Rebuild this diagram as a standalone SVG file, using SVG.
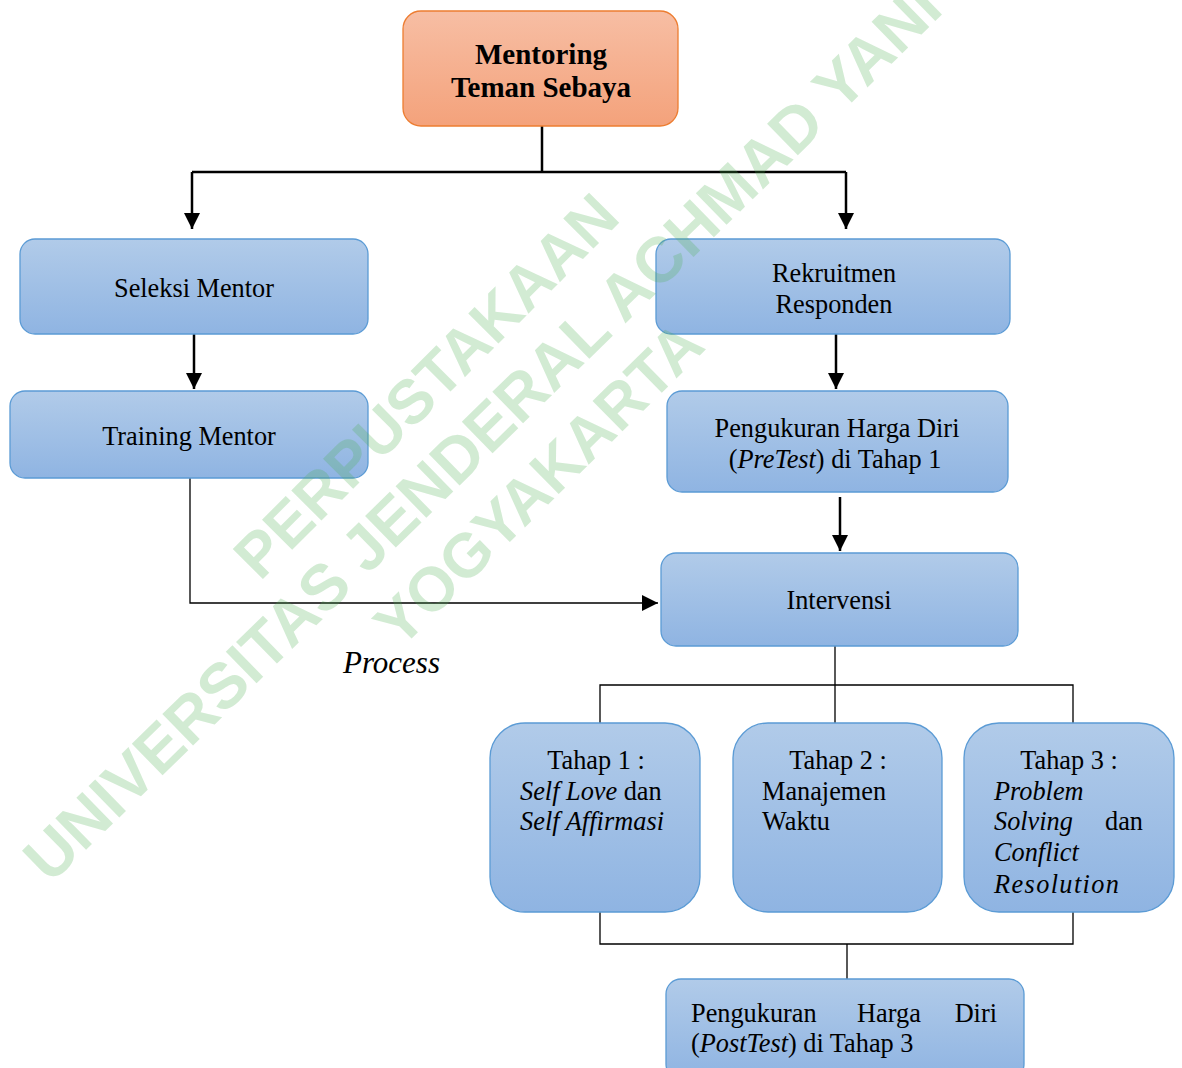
<svg xmlns="http://www.w3.org/2000/svg" width="1182" height="1068" viewBox="0 0 1182 1068">
<defs>
<linearGradient id="gBlue" x1="0" y1="0" x2="0" y2="1">
<stop offset="0" stop-color="#b1cbe9"/>
<stop offset="1" stop-color="#8fb4e2"/>
</linearGradient>
<linearGradient id="gOrange" x1="0" y1="0" x2="0" y2="1">
<stop offset="0" stop-color="#f7bea4"/>
<stop offset="1" stop-color="#f4a27b"/>
</linearGradient>
<marker id="arr" markerUnits="userSpaceOnUse" markerWidth="16" markerHeight="16" refX="14" refY="7" orient="auto" viewBox="0 0 14 14">
<path d="M0,0 L14,7 L0,14 z" fill="#000"/>
</marker>
</defs>
<style>
.box{fill:url(#gBlue);stroke:#5b9bd5;stroke-width:1.3}
.obox{fill:url(#gOrange);stroke:#ed7d31;stroke-width:1.3}
.t{font-family:"Liberation Serif","Times New Roman",serif;font-size:26.3px;fill:#000}
.c{text-anchor:middle}
.e{text-anchor:end}
.i{font-style:italic}
.b{font-weight:bold;font-size:29px}
.thick{fill:none;stroke:#000;stroke-width:2.5}
.thin{fill:none;stroke:#000;stroke-width:1.3}
.wm{font-family:"Liberation Sans",Arial,sans-serif;font-weight:bold;font-size:62px;fill:#4caf50;fill-opacity:0.25}
</style>

<g id="connectors">
<path class="thick" d="M542,126 V172 M192,172 H846"/>
<path class="thick" d="M192,172 V229" marker-end="url(#arr)"/>
<path class="thick" d="M846,172 V229" marker-end="url(#arr)"/>
<path class="thick" d="M194,334 V389" marker-end="url(#arr)"/>
<path class="thick" d="M836,334 V389" marker-end="url(#arr)"/>
<path class="thick" d="M840,497 V551" marker-end="url(#arr)"/>
<path class="thin" d="M190,478 V603 H658" marker-end="url(#arr)"/>
<path class="thin" d="M835,646 V723 M600,723 V685 H1073 V723"/>
<path class="thin" d="M600,912 V944 H1073 V912 M847,944 V979"/>
</g>

<g id="node-mentoring">
<rect class="obox" x="403" y="11" width="275" height="115" rx="18"/>
<text class="t b c" x="541" y="64">Mentoring</text>
<text class="t b c" x="541" y="97">Teman Sebaya</text>
</g>

<g id="node-seleksi">
<rect class="box" x="20" y="239" width="348" height="95" rx="15"/>
<text class="t c" x="194" y="297">Seleksi Mentor</text>
</g>

<g id="node-training">
<rect class="box" x="10" y="391" width="358" height="87" rx="15"/>
<text class="t c" x="189" y="445">Training Mentor</text>
</g>

<g id="node-rekruitmen">
<rect class="box" x="656" y="239" width="354" height="95" rx="15"/>
<text class="t c" x="834" y="282">Rekruitmen</text>
<text class="t c" x="834" y="313">Responden</text>
</g>

<g id="node-pretest">
<rect class="box" x="667" y="391" width="341" height="101" rx="15"/>
<text class="t c" x="837" y="437">Pengukuran Harga Diri</text>
<text class="t c" x="835" y="468">(<tspan class="i">PreTest</tspan>) di Tahap 1</text>
</g>

<g id="node-intervensi">
<rect class="box" x="661" y="553" width="357" height="93" rx="15"/>
<text class="t c" x="839" y="609">Intervensi</text>
</g>

<text id="label-process" class="t i" x="343" y="673" style="font-size:31px">Process</text>

<g id="node-tahap1">
<rect class="box" x="490" y="723" width="210" height="189" rx="35"/>
<text class="t c" x="596" y="769">Tahap 1 :</text>
<text class="t" x="520" y="800"><tspan class="i">Self Love</tspan> dan</text>
<text class="t i" x="520" y="830" textLength="144">Self Affirmasi</text>
</g>

<g id="node-tahap2">
<rect class="box" x="733" y="723" width="209" height="189" rx="35"/>
<text class="t c" x="838" y="769">Tahap 2 :</text>
<text class="t" x="762" y="800">Manajemen</text>
<text class="t" x="762" y="830">Waktu</text>
</g>

<g id="node-tahap3">
<rect class="box" x="964" y="723" width="210" height="189" rx="35"/>
<text class="t c" x="1069" y="769">Tahap 3 :</text>
<text class="t i" x="994" y="800">Problem</text>
<text class="t i" x="994" y="830">Solving</text>
<text class="t e" x="1143" y="830">dan</text>
<text class="t i" x="994" y="861">Conflict</text>
<text class="t i" x="994" y="893" textLength="125">Resolution</text>
</g>

<g id="node-posttest">
<rect class="box" x="666" y="979" width="358" height="100" rx="15"/>
<text class="t" x="691" y="1022">Pengukuran</text>
<text class="t c" x="889" y="1022">Harga</text>
<text class="t e" x="997" y="1022">Diri</text>
<text class="t" x="691" y="1052">(<tspan class="i">PostTest</tspan>) di Tahap 3</text>
</g>

<g id="watermark">
<text class="wm" transform="translate(50,885) rotate(-44.3)" style="font-size:64px">UNIVERSITAS JENDERAL ACHMAD YANI</text>
<text class="wm" transform="translate(260,582) rotate(-45)">PERPUSTAKAAN</text>
<text class="wm" transform="translate(400,650) rotate(-44.5)">YOGYAKARTA</text>
</g>
</svg>
